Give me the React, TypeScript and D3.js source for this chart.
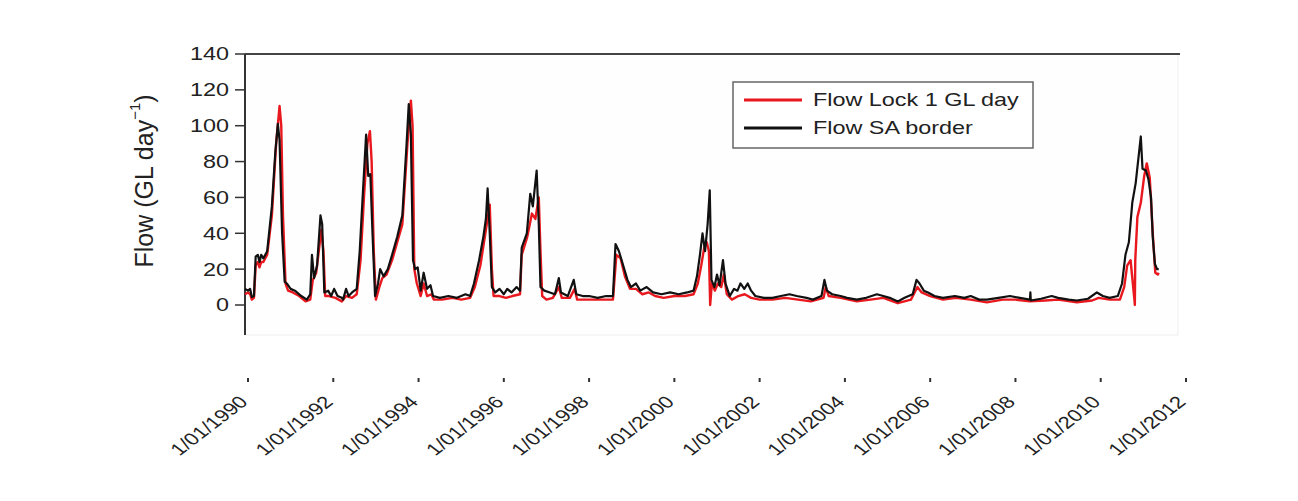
import * as d3 from "d3";

// Flow at Lock 1 (red) and at the SA border (black), GL/day, by decimal year
const lockYears = [
  1989.93, 1990.0, 1990.05, 1990.09, 1990.14, 1990.18, 1990.23, 1990.27, 1990.31, 1990.36,
  1990.45, 1990.56, 1990.66, 1990.74, 1990.78, 1990.82, 1990.88, 1990.94, 1991.05, 1991.2,
  1991.35, 1991.46, 1991.52, 1991.6, 1991.72, 1991.77, 1991.81, 1991.9, 1992.05, 1992.2,
  1992.3, 1992.44, 1992.55, 1992.64, 1992.72, 1992.8, 1992.86, 1992.9, 1992.95, 1993.0,
  1993.08, 1993.15, 1993.25, 1993.38, 1993.5, 1993.62, 1993.74, 1993.82, 1993.86, 1993.9,
  1993.96, 1994.05, 1994.12, 1994.2, 1994.3, 1994.36, 1994.55, 1994.8, 1995.0, 1995.21,
  1995.32, 1995.45, 1995.58, 1995.67, 1995.72, 1995.76, 1995.9, 1996.05, 1996.2, 1996.38,
  1996.42, 1996.55, 1996.66, 1996.74, 1996.82, 1996.86, 1996.9, 1997.0, 1997.15, 1997.29,
  1997.36, 1997.55, 1997.66, 1997.72, 1997.9, 1998.1, 1998.35, 1998.56, 1998.64, 1998.74,
  1998.84, 1998.96, 1999.1, 1999.25, 1999.4, 1999.55, 1999.75, 2000.0, 2000.25, 2000.45,
  2000.55, 2000.63, 2000.7, 2000.76, 2000.81, 2000.84, 2000.88, 2000.95, 2001.02, 2001.1,
  2001.16, 2001.23, 2001.35, 2001.5, 2001.65, 2001.8, 2002.0, 2002.3, 2002.6, 2002.9,
  2003.2, 2003.5, 2003.55, 2003.62, 2003.9, 2004.28, 2004.6, 2004.9, 2005.24, 2005.55,
  2005.7, 2005.8, 2006.0, 2006.3, 2006.6, 2006.95, 2007.33, 2007.7, 2008.0, 2008.34,
  2008.7, 2009.0, 2009.44, 2009.8, 2009.95, 2010.21, 2010.45, 2010.55, 2010.62, 2010.7,
  2010.79, 2010.8, 2010.81, 2010.86, 2010.94, 2011.02, 2011.08, 2011.15, 2011.22, 2011.28,
  2011.34, 2011.36,
];
const lockFlow = [
  6, 7, 6, 3, 4, 22, 24, 21, 24, 24,
  28, 50, 90, 111, 100, 50, 12, 8, 7, 5,
  2, 3, 14, 18, 42, 30, 5, 5, 4, 2,
  5, 4, 6, 25, 60, 90, 97, 80, 30, 3,
  10, 15, 17, 25, 35, 45, 90, 114, 100, 20,
  12, 5, 12, 5, 6, 3, 3, 4, 3, 4,
  10, 22, 42, 56, 20, 5, 5, 4, 5, 6,
  28, 38, 51, 48, 60, 30, 5, 3, 4, 10,
  4, 4, 9, 3, 3, 3, 3, 3, 28, 26,
  16, 9, 9, 6, 7, 5, 4, 5, 5, 6,
  12, 22, 32, 35, 30, 0, 12, 8, 12, 10,
  17, 6, 3, 5, 6, 4, 3, 3, 4, 3,
  2, 4, 10, 5, 4, 2, 3, 4, 1, 3,
  10, 7, 5, 3, 4, 3, 1.5, 3, 3, 2,
  2.5, 3, 1.5, 2.5, 4, 3, 3, 10, 22, 25,
  3, 0, 25, 49, 57, 72, 79, 71, 40, 18,
  17, 18,
];

const borderYears = [
  1989.93, 1990.0, 1990.05, 1990.09, 1990.14, 1990.18, 1990.23, 1990.27, 1990.31, 1990.36,
  1990.45, 1990.56, 1990.64, 1990.7, 1990.74, 1990.8, 1990.86, 1990.91, 1991.0, 1991.1,
  1991.25, 1991.38, 1991.46, 1991.5, 1991.55, 1991.62, 1991.7, 1991.74, 1991.79, 1991.88,
  1991.95, 1992.02, 1992.1, 1992.2, 1992.23, 1992.3, 1992.36, 1992.44, 1992.55, 1992.62,
  1992.7, 1992.77, 1992.82, 1992.87, 1992.92, 1992.98, 1993.05, 1993.1, 1993.18, 1993.28,
  1993.38, 1993.5, 1993.62, 1993.72, 1993.77, 1993.82, 1993.87, 1993.92, 1993.98, 1994.05,
  1994.12, 1994.2, 1994.28, 1994.34, 1994.5, 1994.7, 1994.9, 1995.1, 1995.21, 1995.3,
  1995.42, 1995.52, 1995.58, 1995.62, 1995.67, 1995.72, 1995.8, 1995.9, 1996.0, 1996.08,
  1996.18, 1996.3, 1996.38, 1996.42, 1996.54, 1996.62, 1996.68, 1996.77, 1996.82, 1996.86,
  1996.95, 1997.08, 1997.2, 1997.29, 1997.34, 1997.5, 1997.64, 1997.7, 1997.85, 1998.0,
  1998.2, 1998.4, 1998.56, 1998.62, 1998.7, 1998.8, 1998.9, 1998.98, 1999.1, 1999.2,
  1999.35, 1999.5, 1999.7, 1999.9, 2000.1, 2000.3, 2000.45, 2000.53, 2000.6, 2000.66,
  2000.72, 2000.78, 2000.83, 2000.87, 2000.94, 2001.0, 2001.06, 2001.14, 2001.2, 2001.3,
  2001.4, 2001.48, 2001.55, 2001.64, 2001.72, 2001.8, 2001.9, 2002.1, 2002.3, 2002.5,
  2002.7, 2002.87, 2003.1, 2003.25, 2003.45, 2003.52, 2003.58, 2003.7, 2003.9, 2004.05,
  2004.28, 2004.5, 2004.75, 2004.9, 2005.05, 2005.24, 2005.4, 2005.59, 2005.68, 2005.75,
  2005.85, 2005.95, 2006.1, 2006.3, 2006.58, 2006.8, 2006.95, 2007.15, 2007.33, 2007.6,
  2007.87, 2008.1, 2008.34, 2008.35, 2008.36, 2008.6, 2008.85, 2009.0, 2009.25, 2009.44,
  2009.7, 2009.91, 2010.05, 2010.21, 2010.4, 2010.5, 2010.58, 2010.66, 2010.74, 2010.82,
  2010.94, 2010.98, 2011.06, 2011.12, 2011.18, 2011.22, 2011.27, 2011.32, 2011.36,
];
const borderFlow = [
  9, 8, 9, 4.5, 5, 27, 28, 24, 28, 26,
  30, 55, 85, 101, 92, 40, 13, 12, 9, 8,
  5, 3, 6, 28, 15, 22, 50, 45, 7, 8,
  5, 9, 5, 4, 3, 9, 5, 7, 9, 30,
  65, 95, 72, 73, 40, 5, 12, 20, 16, 20,
  28, 38, 50, 90, 112, 95, 25, 20, 21, 8,
  18, 9, 11, 5, 4, 5, 4, 6, 5, 12,
  25, 38, 48, 65, 40, 10, 7, 9, 6, 9,
  7, 10, 8, 32, 40, 62, 55, 75, 45, 10,
  8, 7, 6, 15, 7, 5, 14, 6, 5, 5,
  4, 5, 5, 34, 30, 22, 14, 10, 12, 8,
  10, 7, 6, 7, 6, 7, 8, 16, 28, 40,
  30, 45, 64, 14, 10, 17, 11, 25, 12, 5,
  9, 8, 12, 9, 12, 8, 5, 4, 4, 5,
  6, 5, 4, 3, 5, 14, 8, 6, 5, 4,
  3, 4, 6, 5, 4, 2, 4, 6, 14, 12,
  8, 7, 5, 4, 5, 4, 5, 3, 3, 4,
  5, 4, 3, 7, 2.5, 3.5, 5, 4, 3, 2.5,
  3.5, 7, 5, 4, 5, 12, 28, 35, 57, 68,
  94, 76, 75, 70, 60, 38, 23, 20, 20,
];

const yTicks = [0, 20, 40, 60, 80, 100, 120, 140];
const xTickYears = [1990, 1992, 1994, 1996, 1998, 2000, 2002, 2004, 2006, 2008, 2010, 2012];
const xTickLabels = [
  "1/01/1990", "1/01/1992", "1/01/1994", "1/01/1996", "1/01/1998", "1/01/2000",
  "1/01/2002", "1/01/2004", "1/01/2006", "1/01/2008", "1/01/2010", "1/01/2012",
];
const seriesNames = ["Flow Lock 1 GL day", "Flow SA border"];
const seriesColors = ["#e8181e", "#111111"];

const W = 1298;
const H = 501;
const left = 245;
const right = 1178;
const top = 54;
const bottom = 335;
const font = "'Liberation Sans', Arial, Helvetica, sans-serif";

const App = () => {
  const x = d3.scaleLinear().domain([1990, 2012]).range([248, 1186]);
  const y = d3.scaleLinear().domain([0, 140]).range([305, 54]);

  const line = d3
    .line<[number, number]>()
    .x((d) => x(d[0]))
    .y((d) => y(d[1]));

  const lockPath = line(lockYears.map((t, i) => [t, lockFlow[i]] as [number, number]));
  const borderPath = line(borderYears.map((t, i) => [t, borderFlow[i]] as [number, number]));

  return (
    <svg
      width={W}
      height={H}
      style={{ position: "absolute", left: 0, top: 0, background: "#fff" }}
      fontFamily={font}
    >
      {/* plot panel */}
      <rect x={left} y={top} width={right - left} height={bottom - top} fill="#fefefe" stroke="#efefef" />
      <line x1={left} x2={1180} y1={top} y2={top} stroke="#444" strokeWidth={2} />
      <line x1={left} x2={left} y1={top} y2={bottom} stroke="#333" strokeWidth={2} />

      {/* y axis */}
      {yTicks.map((t) => (
        <g key={t}>
          <line x1={235} x2={left} y1={y(t)} y2={y(t)} stroke="#333" strokeWidth={1.5} />
          <text
            transform={`translate(229,${y(t)}) scale(1.3,1)`}
            textAnchor="end"
            dominantBaseline="central"
            fontSize={18}
            fill="#222"
          >
            {t}
          </text>
        </g>
      ))}
      <text
        transform={`translate(144,181) rotate(-90)`}
        textAnchor="middle"
        dominantBaseline="central"
        fontSize={25}
        fill="#222"
      >
        Flow (GL day
        <tspan fontSize={15} dy={-10}>
          −1
        </tspan>
        <tspan dy={10}>)</tspan>
      </text>

      {/* series */}
      <path d={lockPath ?? ""} fill="none" stroke={seriesColors[0]} strokeWidth={2.4} strokeLinejoin="round" />
      <path d={borderPath ?? ""} fill="none" stroke={seriesColors[1]} strokeWidth={2.2} strokeLinejoin="round" />

      {/* x axis (detached below panel) */}
      {xTickYears.map((t, i) => (
        <g key={t}>
          <line x1={x(t)} x2={x(t)} y1={378} y2={382} stroke="#333" strokeWidth={2} />
          <text
            transform={`translate(${x(t) + 1},403) scale(1.3,1) rotate(-45)`}
            textAnchor="end"
            fontSize={17}
            fill="#222"
          >
            {xTickLabels[i]}
          </text>
        </g>
      ))}

      {/* legend */}
      <rect x={733} y={82} width={300} height={66} fill="#fff" stroke="#666" strokeWidth={1.5} />
      {seriesNames.map((name, i) => (
        <g key={name}>
          <line x1={744} x2={802} y1={100 + i * 28} y2={100 + i * 28} stroke={seriesColors[i]} strokeWidth={3} />
          <text
            transform={`translate(813,${100 + i * 28}) scale(1.3,1)`}
            dominantBaseline="central"
            fontSize={18}
            fill="#222"
          >
            {name}
          </text>
        </g>
      ))}
    </svg>
  );
};

export default App;
